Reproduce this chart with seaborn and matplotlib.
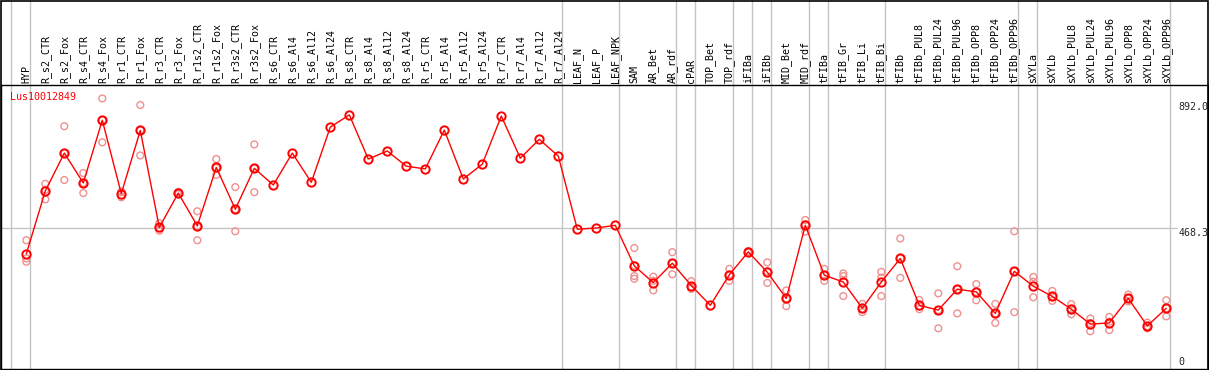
import numpy as np
import pandas as pd
import seaborn as sns
import matplotlib.pyplot as plt
from matplotlib.patches import Rectangle

# ----------------------------------------
# Data
# ----------------------------------------
gene = "Lus10012849"

samples = [
    "HYP", "R_s2_CTR", "R_s2_Fox", "R_s4_CTR", "R_s4_Fox", "R_r1_CTR", "R_r1_Fox",
    "R_r3_CTR", "R_r3_Fox", "R_r1s2_CTR", "R_r1s2_Fox", "R_r3s2_CTR", "R_r3s2_Fox",
    "R_s6_CTR", "R_s6_Al4", "R_s6_Al12", "R_s6_Al24", "R_s8_CTR", "R_s8_Al4",
    "R_s8_Al12", "R_s8_Al24", "R_r5_CTR", "R_r5_Al4", "R_r5_Al12", "R_r5_Al24",
    "R_r7_CTR", "R_r7_Al4", "R_r7_Al12", "R_r7_Al24", "LEAF_N", "LEAF_P", "LEAF_NPK",
    "SAM", "AR_Bet", "AR_rdf", "cPAR", "TOP_Bet", "TOP_rdf", "iFIBa", "iFIBb",
    "MID_Bet", "MID_rdf", "tFIBa", "tFIB_Gr", "tFIB_Li", "tFIB_Bi", "tFIBb",
    "tFIBb_PUL8", "tFIBb_PUL24", "tFIBb_PUL96", "tFIBb_OPP8", "tFIBb_OPP24",
    "tFIBb_OPP96", "sXYLa", "sXYLb", "sXYLb_PUL8", "sXYLb_PUL24", "sXYLb_PUL96",
    "sXYLb_OPP8", "sXYLb_OPP24", "sXYLb_OPP96",
]

means = [
    382, 593, 720, 620, 830, 584, 796, 471, 586, 476, 672, 532, 669,
    613, 720, 622, 807, 848, 700, 727, 676, 667, 797, 633, 683, 844, 703, 766, 710,
    465, 469, 478, 342, 286, 351, 276, 210, 312, 389, 321, 233, 478,
    311, 288, 200, 288, 367, 210, 194, 264, 255, 183, 324,
    274, 240, 197, 147, 151, 233, 141, 200,
]

replicates = [
    [428, 367, 356], [617, 597, 565], [810, 720, 630], [653, 620, 586],
    [903, 830, 756], [591, 589, 572], [881, 796, 712], [485, 468, 460],
    [590, 586, 582], [525, 475, 428], [700, 670, 647], [606, 532, 458],
    [749, 669, 589],
    [], [], [], [], [], [], [], [], [], [], [], [], [], [], [], [],
    [], [], [],
    [402, 344, 308, 299], [306, 292, 260], [388, 351, 314], [291, 272, 265],
    [], [332, 312, 292], [392, 389, 386], [354, 324, 285], [260, 233, 207],
    [496, 481, 457], [332, 311, 292], [317, 308, 241], [215, 198, 187],
    [322, 303, 241], [434, 367, 302], [228, 206, 197], [250, 194, 133],
    [341, 264, 183], [281, 255, 227], [215, 183, 151], [458, 324, 187],
    [305, 289, 237], [258, 240, 225], [214, 197, 180], [166, 150, 123],
    [171, 155, 127], [246, 233, 223], [152, 140, 133], [227, 200, 173],
]

# last sample index of each group (vertical separators)
group_ends = [-1, 0, 28, 31, 34, 35, 37, 38, 39, 41, 42, 45, 52, 53, 60]

y_labels = [892.0, 468.3, 0]

# ----------------------------------------
# Tables for seaborn
# ----------------------------------------
df_mean = pd.DataFrame({"pos": np.arange(len(samples)), "sample": samples, "value": means})
rows = []
for i, vals in enumerate(replicates):
    for v in vals:
        rows.append({"pos": i, "sample": samples[i], "value": v})
df_rep = pd.DataFrame(rows)

# ----------------------------------------
# Figure
# ----------------------------------------
sns.set_style("white")
plt.rcParams["font.family"] = ["DejaVu Sans Mono"]

W, H = 1209, 370
fig = plt.figure(figsize=(W / 100, H / 100), dpi=100)
ax = fig.add_axes([1 / W, 1 / H, 1207 / W, 284 / H])

# pixel mapping: sample i at x = 26.3 + 19 i ; value 0 at y = 368, 0.2985 px / unit
ax.set_xlim((1 - 26.3) / 19, (1208 - 26.3) / 19)
ax.set_ylim(-1 / 0.2985, 283 / 0.2985)
ax.set_xticks([])
ax.set_yticks([])
for s in ax.spines.values():
    s.set_color("black")
    s.set_linewidth(1.0)

grey = "#c4c4c4"
# horizontal gridline at the middle label
ax.plot([ax.get_xlim()[0], 60.55], [468.3, 468.3], color=grey, lw=1, zorder=1)
# group separators extend through the label area
for g in group_ends:
    ax.axvline(g + 0.21, ymin=0, ymax=369 / 284, color=grey, lw=1, clip_on=False, zorder=1)

sns.scatterplot(data=df_rep, x="pos", y="value", ax=ax, marker="o", s=24,
                facecolors="none", edgecolor="#ee9090", linewidth=1.0, zorder=2)
sns.lineplot(data=df_mean, x="pos", y="value", ax=ax, color="red", lw=1,
             marker="o", markersize=6, markerfacecolor="none",
             markeredgecolor="red", markeredgewidth=1.4, zorder=3)
ax.set_xlabel("")
ax.set_ylabel("")

# sample labels above the plot
trans = ax.get_xaxis_transform()
for i, name in enumerate(samples):
    ax.text(i, 1 + 2 / 284, name, transform=trans, rotation=90, ha="center",
            va="bottom", fontsize=7.2, color="black", clip_on=False)

# gene name
ax.text(-0.86, 909, gene, color="red", fontsize=7.2, ha="left", va="center")

# value labels on the right
for v in y_labels:
    if v == 0:
        ax.text(60.62, 5, "0", fontsize=7.2, ha="left", va="bottom")
    else:
        ax.text(60.62, v, f"{v:.1f}", fontsize=7.2, ha="left", va="top", clip_on=True)

# outer frame
fig.patches.append(Rectangle((0.5 / W, 0.5 / H), 1207.5 / W, (H - 1) / H,
                             transform=fig.transFigure, fill=False,
                             edgecolor="black", lw=1.2))

fig.savefig("out.png", dpi=100)
